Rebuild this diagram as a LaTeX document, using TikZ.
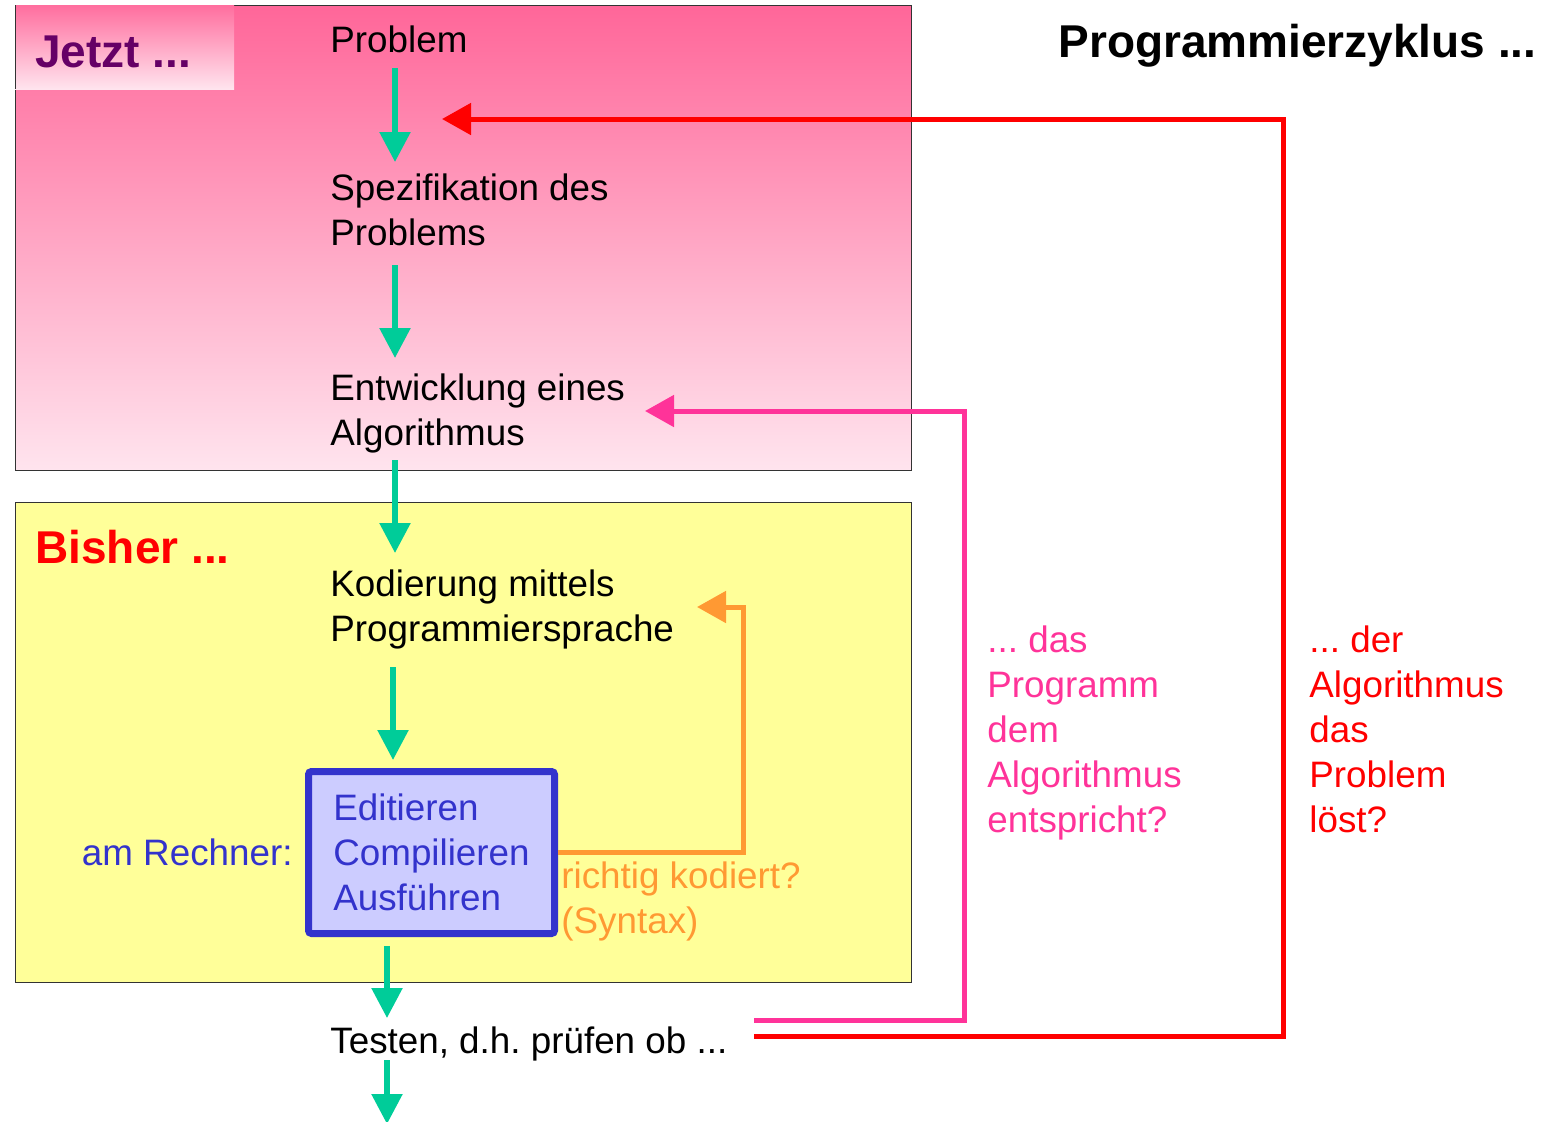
\documentclass[tikz,border=0pt]{standalone}
\usepackage{fontspec}
\setmainfont{Liberation Sans}
\usetikzlibrary{arrows.meta,calc}
\definecolor{gruen}{HTML}{00CC99}
\definecolor{rosa}{HTML}{FF3399}
\definecolor{orange}{HTML}{FF9933}
\definecolor{blau}{HTML}{3333CC}
\definecolor{blauhell}{HTML}{CCCCFF}
\definecolor{gelb}{HTML}{FFFF99}
\definecolor{lila}{HTML}{660066}
\definecolor{pinkoben}{HTML}{FF6699}
\definecolor{pinkunten}{HTML}{FFE4EE}
\frenchspacing
\begin{document}
\begin{tikzpicture}[x=0.5pt,y=-0.5pt,
    txt/.style={anchor=base west, inner sep=0pt, align=left, font=\fontsize{18.4}{22.5}\selectfont},
    titel/.style={anchor=base west, inner sep=0pt, font=\fontsize{23}{28}\selectfont\bfseries},
    fluss/.style={draw=gruen, line width=2.75pt, -{Triangle[width=15pt,length=15pt]}},
    rueck/.style={line width=2.5pt, -{Triangle[width=15.5pt,length=14.5pt]}}]
    \useasboundingbox (0,0) rectangle (1544,1121);

    % Hintergruende
    \shadedraw[top color=pinkoben, bottom color=pinkunten, draw=black!80, line width=0.5pt] (15,5) rectangle (911,470);
    \shade[top color=pinkoben!95!white, bottom color=pinkunten] (15,5) rectangle (234,89);
    \draw[black!80, line width=0.5pt] (15,5) -- (15,89);
    \filldraw[fill=gelb, draw=black!80, line width=0.5pt] (15,502) rectangle (911,982);

    % Ueberschriften
    \node[titel, text=lila] (jetzt) at (35,67) {Jetzt ...};
    \node[titel, text=red] (bisher) at (35,563) {Bisher ...};
    \node[titel, anchor=base east] (zyklus) at (1537,57) {Programmierzyklus ...};

    % Schritte (Basislinie = letzte Zeile)
    \node[txt] (prob) at (330,52) {Problem};
    \node[txt] (spec) at (330,245) {Spezifikation des\\Problems};
    \node[txt] (entw) at (330,445) {Entwicklung eines\\Algorithmus};
    \node[txt] (kod) at (330,641) {Kodierung mittels\\Programmiersprache};
    \node[draw=blau, fill=blauhell, line width=3.5pt, rounded corners=1.5pt, anchor=north west,
        minimum width=123pt, minimum height=81pt, inner sep=0pt, align=left, text=blau,
        font=\fontsize{18.4}{22.5}\selectfont] (edit) at (305,768) {Editieren\\Compilieren\\Ausführen};
    \node[txt, anchor=base east, text=blau] (rechner) at (293,865) {am Rechner:};
    \node[txt] (test) at (330,1053) {Testen, d.h. prüfen ob ...};
    \coordinate (ende) at (387,1124);

    % Fragen
    \node[txt, text=orange] (syntax) at (561,933) {richtig kodiert?\\(Syntax)};
    \node[txt, text=rosa] (frage1) at (987,832) {... das\\Programm\\dem\\Algorithmus\\entspricht?};
    \node[txt, text=red] (frage2) at (1309,832) {... der\\Algorithmus\\das\\Problem\\löst?};

    % Pfeile
    \draw[fluss] ($(prob.base west)+(65,16)$) -- ($(spec.base west)+(65,-83)$);
    \draw[fluss] ($(spec.base west)+(65,20)$) -- ($(entw.base west)+(65,-87)$);
    \draw[fluss] ($(entw.base west)+(65,15)$) -- ($(kod.base west)+(65,-88)$);
    \draw[fluss] ($(kod.base west)+(63,26)$) -- ($(edit.north west)+(88,-8)$);
    \draw[fluss] ($(edit.south west)+(82,9)$) -- ($(test.base west)+(57,-35)$);
    \draw[fluss] ($(test.base west)+(57,7)$) -- (ende);

    % Rueckkopplungen
    \draw[rueck, orange] (edit.east) -| ($(kod.base west)+(413,-34)$) -- ($(kod.base west)+(367,-34)$);
    \draw[rueck, rosa] ($(test.base west)+(424,-33)$) -| ($(entw.base west)+(634,-34)$) -- ($(entw.base west)+(315,-34)$);
    \draw[rueck, red] ($(test.base west)+(424,-17)$) -| ($(prob.base west)+(953,67)$) -- ($(prob.base west)+(112,67)$);
\end{tikzpicture}
\end{document}
